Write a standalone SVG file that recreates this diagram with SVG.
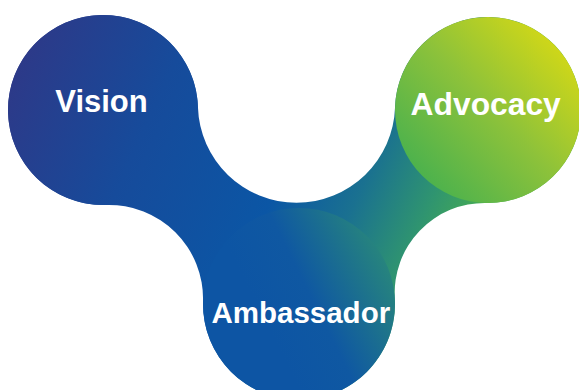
<svg xmlns="http://www.w3.org/2000/svg" width="579" height="390" viewBox="0 0 579 390">
  <defs>
    <linearGradient id="gBody" gradientUnits="userSpaceOnUse" x1="30" y1="30" x2="470" y2="230">
      <stop offset="0" stop-color="#2d3988"/>
      <stop offset="0.3" stop-color="#164b9b"/>
      <stop offset="0.6" stop-color="#0b56a5"/>
      <stop offset="0.76" stop-color="#1a7190"/>
      <stop offset="0.9" stop-color="#2f9470"/>
      <stop offset="1" stop-color="#45aa55"/>
    </linearGradient>
    <linearGradient id="gAmb" x1="0.3" y1="0.55" x2="1" y2="0.2">
      <stop offset="0" stop-color="#0d55a4"/>
      <stop offset="0.35" stop-color="#0f58a2"/>
      <stop offset="1" stop-color="#2b8c77"/>
    </linearGradient>
    <linearGradient id="gAdv" x1="0.1" y1="0.9" x2="0.95" y2="0.1">
      <stop offset="0" stop-color="#45b04f"/>
      <stop offset="0.5" stop-color="#8dc23a"/>
      <stop offset="1" stop-color="#dcdb12"/>
    </linearGradient>
  </defs>
  <style>
    .lbl { font-family: "Liberation Sans", Arial, sans-serif; font-weight: bold; fill: #ffffff; text-anchor: middle; }
  </style>
  <g id="connectors">
    <path fill="url(#gBody)" d="M197.95,107.25 A95,95 0 1 0 106.05,204.94 A94,94 0 0 1 203.03,301.42 A96,96 0 1 0 394.83,298.31 A90,90 0 0 1 486.31,202.98 A93,93 0 1 0 395.05,107.28 A98.6,98.6 0 0 1 197.95,107.25 Z"/>
  </g>
  <g id="node-vision">
    <circle cx="103" cy="110" r="95" fill="url(#gBody)"/>
    <text class="lbl" x="101.5" y="112" font-size="31">Vision</text>
  </g>
  <g id="node-ambassador">
    <circle cx="299" cy="304" r="96" fill="url(#gAmb)"/>
    <text class="lbl" x="300.8" y="322.7" font-size="29.5">Ambassador</text>
  </g>
  <g id="node-advocacy">
    <circle cx="488" cy="110" r="93" fill="url(#gAdv)"/>
    <text class="lbl" x="485.7" y="115" font-size="31.8">Advocacy</text>
  </g>
</svg>
